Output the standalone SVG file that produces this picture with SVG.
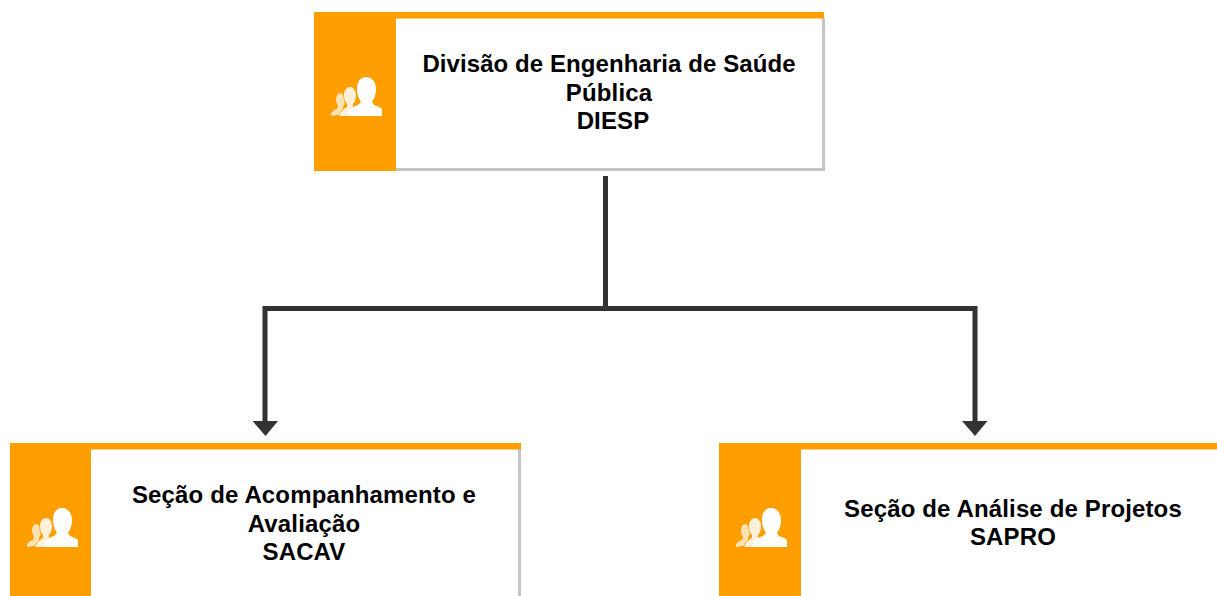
<svg xmlns="http://www.w3.org/2000/svg" width="1217" height="596" viewBox="0 0 1217 596">
<style>
.o{fill:#ff9e00}
.g{fill:none;stroke:#c4c4c4;stroke-width:3}
.t{font-family:"Liberation Sans",Arial,sans-serif;font-weight:700;font-size:24px;fill:#000;text-anchor:middle;letter-spacing:.14px}
.c{fill:none;stroke:#333;stroke-width:5}
</style>
<defs>
<g id="people" fill="#fff" stroke="#ff9e00" stroke-width="1.500" paint-order="stroke">
<path opacity=".7" d="M0 40v-3l3-3 3-1 1-3c-1-2-2-4-2-6 0-4 2-7 4-7s5 3 5 7c0 3-1 5-2 7v7z"/>
<path opacity=".85" d="M8 40l2-4 4-4 2-1v-3c-2-2-3-6-3-9 0-5 3-8 6-8s6 3 6 8c0 4-1 7-3 9l-1 12z"/>
<path stroke="none" d="M17 40v-6l5-3 5-2 3-3c-2-3-4-7-4-13 0-8 4-12 9-12s10 4 10 12c0 6-2 10-4 13l2 3 5 2 3 2v7z"/>
</g>
</defs>
<g id="connectors">
<path class="c" d="M605.500 176V308"/>
<path class="c" d="M265 422V308.500H975V422"/>
<path fill="#333" d="M252.500 421H278L265.500 436z"/>
<path fill="#333" d="M962 421H987.500L975 436z"/>
</g>
<g id="node-diesp">
<rect x="315" y="12" width="508" height="158" fill="#fff"/>
<path class="g" d="M396 169.500H823.500V18"/>
<rect class="o" x="314" y="12" width="510" height="6.500"/>
<rect class="o" x="314" y="12" width="82" height="159"/>
<use href="#people" x="331" y="76"/>
<text class="t" x="609" y="72" style="letter-spacing:.08px">Divisão de Engenharia de Saúde</text>
<text class="t" x="609" y="101">Pública</text>
<text class="t" x="613" y="129">DIESP</text>
</g>
<g id="node-sacav">
<path class="g" d="M519.500 449V596"/>
<rect class="o" x="10" y="443" width="511" height="6.500"/>
<rect class="o" x="10" y="443" width="81" height="153"/>
<use href="#people" x="27" y="507"/>
<text class="t" x="304" y="503">Seção de Acompanhamento e</text>
<text class="t" x="304" y="532">Avaliação</text>
<text class="t" x="304" y="560">SACAV</text>
</g>
<g id="node-sapro">
<rect class="o" x="719" y="443" width="498" height="6.500"/>
<rect class="o" x="719" y="443" width="82" height="153"/>
<use href="#people" x="736" y="507"/>
<text class="t" x="1013" y="517">Seção de Análise de Projetos</text>
<text class="t" x="1013" y="545">SAPRO</text>
</g>
</svg>
